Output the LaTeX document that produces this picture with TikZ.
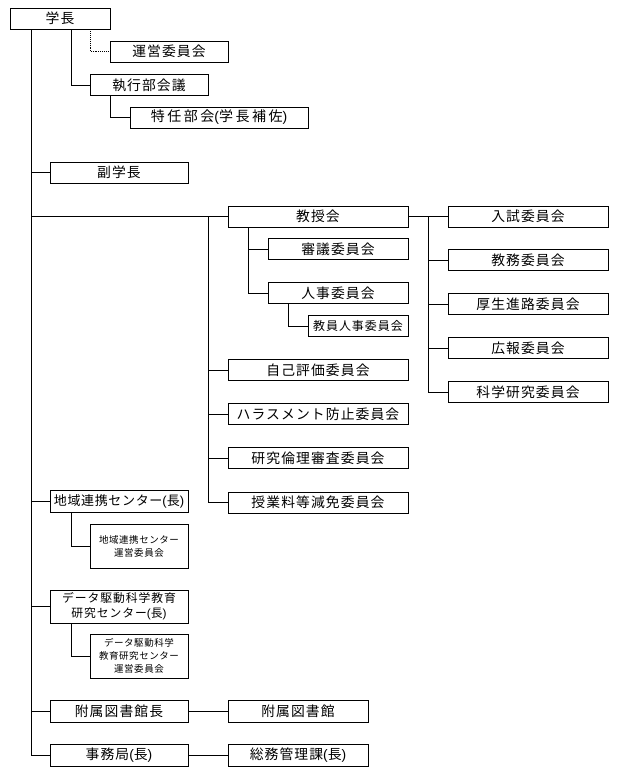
\documentclass[tikz,border=0pt]{standalone}
\usepackage{fontspec}
\setmainfont{Noto Sans CJK JP}[LetterSpace=8]
\newfontfamily\smallcjk{Noto Sans CJK JP}[LetterSpace=6]
\newfontfamily\pfont{Liberation Sans}
\newcommand\lpar{{\pfont(}}
\newcommand\rpar{{\pfont)}}
\begin{document}
\begin{tikzpicture}[x=1pt,y=-1pt,
  box/.style={draw,line width=0.9pt,inner sep=0pt,minimum height=21pt,font=\fontsize{13.8}{15}\selectfont,align=center},
  sbox/.style={draw,line width=0.9pt,inner sep=0pt,font=\smallcjk\fontsize{9.5}{13}\selectfont,align=center},
  ln/.style={line width=0.9pt},
  dl/.style={line width=0.9pt,densely dotted}]
\useasboundingbox (0,0) rectangle (623,780);
% nodes
\node[box,minimum width=100pt] (gakucho) at (60,18.5) {学長};
\node[box,minimum width=118pt] (unei) at (169,51.5) {運営委員会};
\node[box,minimum width=118pt] (shikko) at (149,85) {執行部会議};
\node[box,minimum width=178pt,font=\fontsize{14}{15}\selectfont\addfontfeature{LetterSpace=18}] (tokunin) at (219,117.5) {特任部会\lpar 学長補佐\rpar};
\node[box,minimum width=138pt] (fuku) at (119,172.5) {副学長};
\node[box,minimum width=180pt] (kyoju) at (318,216.5) {教授会};
\node[box,minimum width=140pt] (shingi) at (338,249) {審議委員会};
\node[box,minimum width=140pt] (jinji) at (338,293) {人事委員会};
\node[box,minimum width=100pt,font=\fontsize{12}{14}\selectfont] (kyoin) at (358,326) {教員人事委員会};
\node[box,minimum width=180pt] (jiko) at (318,370) {自己評価委員会};
\node[box,minimum width=180pt] (harass) at (318,414) {ハラスメント防止委員会};
\node[box,minimum width=180pt] (rinri) at (318,458) {研究倫理審査委員会};
\node[box,minimum width=180pt] (jugyo) at (318,502.5) {授業料等減免委員会};
\node[box,minimum width=160pt] (nyushi) at (528,216.5) {入試委員会};
\node[box,minimum width=160pt] (kyomu) at (528,260) {教務委員会};
\node[box,minimum width=160pt] (kosei) at (528,304) {厚生進路委員会};
\node[box,minimum width=160pt] (koho) at (528,348) {広報委員会};
\node[box,minimum width=160pt] (kagaku) at (528,392) {科学研究委員会};
\node[box,minimum width=138pt,minimum height=22pt,font=\fontsize{13}{15}\selectfont\addfontfeature{LetterSpace=5}] (chiiki) at (119,501.5) {地域連携センター\lpar 長\rpar};
\node[sbox,minimum width=98pt,minimum height=44pt] (chiikiunei) at (139,546) {地域連携センター\\運営委員会};
\node[box,minimum width=138pt,minimum height=33pt,font=\fontsize{11.8}{15}\selectfont] (data) at (119,606.5) {データ駆動科学教育\\研究センター\lpar 長\rpar};
\node[sbox,minimum width=98pt,minimum height=44pt] (dataunei) at (139,656) {データ駆動科学\\教育研究センター\\運営委員会};
\node[box,minimum width=138pt,minimum height=22pt] (toshocho) at (119,711) {附属図書館長};
\node[box,minimum width=140pt,minimum height=22pt] (tosho) at (298,711) {附属図書館};
\node[box,minimum width=138pt,minimum height=22pt] (jimu) at (119,755) {事務局\lpar 長\rpar};
\node[box,minimum width=140pt,minimum height=22pt] (somu) at (298,755) {総務管理課\lpar 長\rpar};
% guide coordinates
\coordinate (trunk) at (31,0);
\coordinate (xa) at (71,0);
\coordinate (xd) at (90,0);
\coordinate (xt) at (110,0);
\coordinate (xk) at (208,0);
\coordinate (xs) at (248,0);
\coordinate (xj) at (288,0);
\coordinate (xr) at (428,0);
% connectors
\draw[ln] (gakucho.south -| trunk) |- (jimu.west);
\draw[ln] (trunk |- fuku.west) -- (fuku.west);
\draw[ln] (trunk |- kyoju.west) -- (kyoju.west);
\draw[ln] (trunk |- chiiki.west) -- (chiiki.west);
\draw[ln] (trunk |- data.west) -- (data.west);
\draw[ln] (trunk |- toshocho.west) -- (toshocho.west);
\draw[dl] (gakucho.south -| xd) |- (unei.west);
\draw[ln] (gakucho.south -| xa) |- (shikko.west);
\draw[ln] (shikko.south -| xt) |- (tokunin.west);
\draw[ln] (kyoju.west -| xk) |- (jugyo.west);
\draw[ln] (xk |- jiko.west) -- (jiko.west);
\draw[ln] (xk |- harass.west) -- (harass.west);
\draw[ln] (xk |- rinri.west) -- (rinri.west);
\draw[ln] (kyoju.south -| xs) |- (jinji.west);
\draw[ln] (xs |- shingi.west) -- (shingi.west);
\draw[ln] (jinji.south -| xj) |- (kyoin.west);
\draw[ln] (kyoju.east) -- (nyushi.west);
\draw[ln] (kyoju.east -| xr) |- (kagaku.west);
\draw[ln] (xr |- kyomu.west) -- (kyomu.west);
\draw[ln] (xr |- kosei.west) -- (kosei.west);
\draw[ln] (xr |- koho.west) -- (koho.west);
\draw[ln] (chiiki.south -| xa) |- (chiikiunei.west);
\draw[ln] (data.south -| xa) |- (dataunei.west);
\draw[ln] (toshocho.east) -- (tosho.west);
\draw[ln] (jimu.east) -- (somu.west);
\end{tikzpicture}
\end{document}
